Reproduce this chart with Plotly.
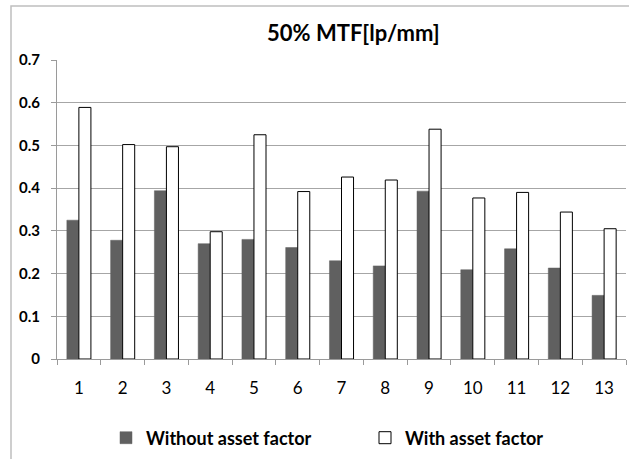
import plotly.graph_objects as go

categories = ["1", "2", "3", "4", "5", "6", "7", "8", "9", "10", "11", "12", "13"]
without_asset = [0.325, 0.278, 0.394, 0.270, 0.280, 0.261, 0.230, 0.218, 0.393, 0.209, 0.258, 0.213, 0.149]
with_asset = [0.589, 0.502, 0.497, 0.298, 0.525, 0.392, 0.426, 0.419, 0.538, 0.377, 0.390, 0.344, 0.305]
y_ticks = [0, 0.1, 0.2, 0.3, 0.4, 0.5, 0.6, 0.7]
y_labels = ["0", "0.1", "0.2", "0.3", "0.4", "0.5", "0.6", "0.7"]

FONT = "Lato"
W, H = 629, 459
L, R, T, B = 57, 3, 60, 100
pw = W - L - R
ph = H - T - B


def px_x(p):
    return (p - L) / pw


def px_y(p):
    return (H - B - p) / ph


fig = go.Figure()
fig.add_trace(go.Bar(
    x=categories, y=without_asset, name="Without asset factor",
    marker=dict(color="#606060", line=dict(color="#606060", width=0.5)),
    legend="legend",
))
fig.add_trace(go.Bar(
    x=categories, y=with_asset, name="With asset factor",
    marker=dict(color="#ffffff", line=dict(color="#000000", width=1)),
    legend="legend2",
))

legend_font = dict(family=FONT, size=18, color="#000000", weight="bold")

fig.update_layout(
    width=W, height=H,
    margin=dict(l=L, r=R, t=T, b=B, autoexpand=False),
    paper_bgcolor="white", plot_bgcolor="white",
    barmode="group", bargap=0.45, bargroupgap=0,
    showlegend=True,
    legend=dict(
        orientation="h", x=px_x(106), xanchor="left", y=px_y(438), yanchor="middle",
        font=legend_font, bgcolor="rgba(0,0,0,0)",
    ),
    legend2=dict(
        orientation="h", x=px_x(365), xanchor="left", y=px_y(438), yanchor="middle",
        font=legend_font, bgcolor="rgba(0,0,0,0)",
    ),
    font=dict(family=FONT, color="#000000"),
    xaxis=dict(
        type="category", showgrid=False, showline=True, linecolor="#9a9a9a", linewidth=1,
        ticks="outside", tickson="boundaries", ticklen=5, tickcolor="#9a9a9a",
        tickfont=dict(family=FONT, size=17, color="#000000"),
        ticklabelstandoff=14,
        fixedrange=True, automargin=False,
    ),
    yaxis=dict(
        range=[0, 0.7], tickvals=y_ticks, ticktext=y_labels,
        showgrid=True, gridcolor="#a6a6a6", gridwidth=1,
        showline=True, linecolor="#9a9a9a", linewidth=1,
        ticks="outside", ticklen=5, tickcolor="#9a9a9a",
        tickfont=dict(family=FONT, size=15, color="#000000", weight="bold"),
        ticklabelstandoff=8,
        zeroline=False, fixedrange=True, automargin=False,
    ),
    shapes=[dict(
        type="rect", xref="paper", yref="paper",
        x0=px_x(11), x1=px_x(700), y0=px_y(520), y1=px_y(6),
        line=dict(color="#bfbfbf", width=1.5), fillcolor="rgba(0,0,0,0)", layer="below",
    )],
    annotations=[dict(
        text="50% MTF[lp/mm]", xref="paper", yref="paper",
        x=px_x(353), y=px_y(32), xanchor="center", yanchor="middle",
        showarrow=False, font=dict(family=FONT, size=22, color="#000000", weight="bold"),
    )],
)

fig.write_html(
    "out.html",
    config={"displayModeBar": False, "staticPlot": True},
    post_script="document.body.style.margin='0px';",
)
